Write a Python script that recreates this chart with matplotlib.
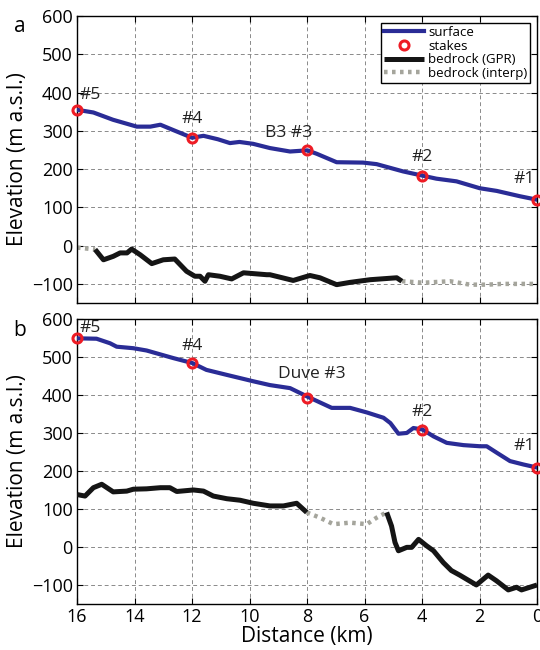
import numpy as np
import matplotlib.pyplot as plt

plt.rcParams['font.family'] = ['Open Sans', 'DejaVu Sans']

# ---- panel a data (distance km, elevation m a.s.l.) ----
a_surf_x = [16, 15.43, 14.75, 13.92, 13.45, 13.1, 12.65, 12.0, 11.6, 11.1, 10.68, 10.35, 9.87,
            9.29, 8.59, 7.99, 7.66, 6.97, 6.05, 5.58, 4.66, 3.99, 3.5, 2.8, 1.99, 1.4, 0.59, 0]
a_surf_y = [355, 348, 329, 311, 311, 316, 302, 282, 287, 278, 268, 271, 266,
            255, 246, 249, 240, 218, 217, 213, 194, 183, 175, 168, 150, 143, 129, 120]
a_gpr_x = [15.37, 15.08, 14.74, 14.5, 14.26, 14.1, 13.8, 13.4, 13.0, 12.6, 12.19, 11.9, 11.72,
           11.55, 11.43, 11.03, 10.62, 10.21, 9.4, 9.29, 8.48, 7.9, 7.55, 6.97, 6.5, 5.8, 4.88, 4.7]
a_gpr_y = [-10, -37, -28, -19, -19, -9, -24, -47, -37, -35, -67, -80, -80,
           -93, -76, -80, -87, -71, -76, -76, -91, -78, -84, -102, -96, -89, -84, -93]
a_int1_x = [16, 15.37]
a_int1_y = [-5, -10]
a_int2_x = [4.7, 3.95, 3.03, 2.33, 1.75, 1.2, 0]
a_int2_y = [-93, -97, -93, -102, -102, -100, -100]
a_stake_x = [16, 12, 8, 4, 0]
a_stake_y = [355, 282, 249, 183, 120]
a_stake_lbl = ['#5', '#4', 'B3 #3', '#2', '#1']
a_lbl_off = [(13, 15), (0, 19), (-18, 17), (0, 19), (-13, 21)]

# ---- panel b data ----
b_surf_x = [16, 15.32, 14.85, 14.62, 14.04, 13.58, 12.65, 11.99, 11.5, 10.8, 9.87, 9.29, 8.59,
            7.94, 7.14, 6.5, 5.92, 5.34, 5.1, 4.82, 4.53, 4.3, 3.98, 3.6, 3.14, 2.56, 1.98, 1.75,
            1.4, 0.94, 0.47, 0]
b_surf_y = [549, 548, 536, 527, 523, 517, 497, 484, 466, 453, 436, 426, 418,
            394, 366, 366, 354, 340, 326, 298, 300, 313, 309, 291, 274, 268, 265, 265,
            248, 226, 217, 209]
b_gpr1_x = [16, 15.72, 15.43, 15.14, 14.74, 14.27, 14.04, 13.58, 13.1, 12.77, 12.53, 11.95, 11.6,
            11.26, 10.79, 10.33, 9.87, 9.29, 8.82, 8.36, 8.01]
b_gpr1_y = [138, 134, 156, 165, 145, 147, 152, 153, 156, 156, 146, 150, 147,
            134, 127, 123, 115, 108, 108, 115, 91]
b_gpr2_x = [5.23, 5.06, 4.94, 4.82, 4.53, 4.36, 4.12, 3.84, 3.6, 3.26, 2.98, 2.69, 2.11,
            1.7, 1.41, 1.0, 0.71, 0.54, 0]
b_gpr2_y = [91, 55, 12, -10, -1, -1, 20, 3, -10, -41, -62, -74, -100,
            -74, -89, -113, -106, -113, -100]
b_int_x = [8.01, 7.55, 7.08, 6.5, 5.92, 5.58, 5.23]
b_int_y = [91, 77, 60, 64, 60, 77, 91]
b_stake_x = [16, 12, 8, 4, 0]
b_stake_y = [549, 483, 393, 309, 208]
b_stake_lbl = ['#5', '#4', 'Duve #3', '#2', '#1']
b_lbl_off = [(13, 10), (0, 17), (5, 24), (0, 18), (-13, 22)]

blue = '#2a2c96'
gray = '#a5a59c'

fig = plt.figure(figsize=(5.4, 6.5), dpi=100)
ax_a = fig.add_axes([0.1426, 0.5338, 0.8519, 0.4415])
ax_b = fig.add_axes([0.1426, 0.0708, 0.8519, 0.4385])


def draw(ax, sx, sy, gprs, ints, kx, ky, lbls, offs):
    for k, (ix, iy) in enumerate(ints):
        ax.plot(ix, iy, color=gray, lw=3.2, linestyle=(0, (0.8, 1.0)),
                label='bedrock (interp)' if k == 0 else None, zorder=2)
    for k, (gx, gy) in enumerate(gprs):
        ax.plot(gx, gy, color='#151515', lw=3.6, label='bedrock (GPR)' if k == 0 else None,
                solid_capstyle='butt', zorder=3)
    ax.plot(sx, sy, color=blue, lw=3.0, label='surface', zorder=4)
    ax.plot(kx, ky, 'o', ms=6.5, mfc='none', mec='#ee1c25', mew=2.2, label='stakes',
            clip_on=False, zorder=5)
    for x, y, t, o in zip(kx, ky, lbls, offs):
        ax.annotate(t, (x, y), xytext=o, textcoords='offset pixels', ha='center',
                    va='center', fontsize=12.5, color='#222222')
    ax.set_xlim(16, 0)
    ax.set_ylim(-150, 600)
    ax.set_xticks(np.arange(0, 17, 2))
    ax.set_yticks(np.arange(-100, 601, 100))
    ax.grid(True, linestyle=(0, (4, 3)), color='#8a8a8a', lw=0.7)
    ax.tick_params(direction='in', top=True, right=True, labelsize=13, length=4, pad=3)
    ax.set_ylabel('Elevation (m a.s.l.)', fontsize=15, labelpad=3)
    for s in ax.spines.values():
        s.set_linewidth(1.0)


draw(ax_a, a_surf_x, a_surf_y, [(a_gpr_x, a_gpr_y)], [(a_int1_x, a_int1_y), (a_int2_x, a_int2_y)],
     a_stake_x, a_stake_y, a_stake_lbl, a_lbl_off)
draw(ax_b, b_surf_x, b_surf_y, [(b_gpr1_x, b_gpr1_y), (b_gpr2_x, b_gpr2_y)], [(b_int_x, b_int_y)],
     b_stake_x, b_stake_y, b_stake_lbl, b_lbl_off)

ax_a.tick_params(labelbottom=False)
ax_b.set_xlabel('Distance (km)', fontsize=15, labelpad=0)

h, l = ax_a.get_legend_handles_labels()
order = [l.index(n) for n in ['surface', 'stakes', 'bedrock (GPR)', 'bedrock (interp)']]
leg = ax_a.legend([h[i] for i in order], [l[i] for i in order], loc='upper right',
                  fontsize=9.5, fancybox=False, edgecolor='black', framealpha=1,
                  borderaxespad=0.5, handlelength=3.0, handletextpad=0.3,
                  labelspacing=0.05, borderpad=0.25)
leg.get_frame().set_linewidth(1.0)

fig.text(20 / 540, 1 - 26 / 650, 'a', fontsize=15, ha='center', va='center')
fig.text(20 / 540, 1 - 331 / 650, 'b', fontsize=15, ha='center', va='center')

fig.savefig('out.png', dpi=100)
